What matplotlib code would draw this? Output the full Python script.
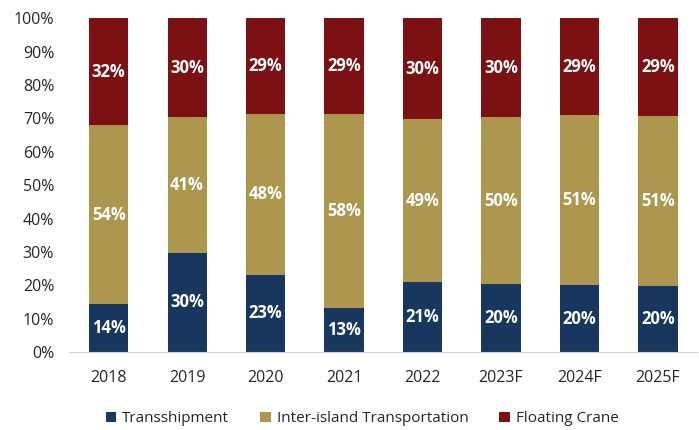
import matplotlib.pyplot as plt
import numpy as np

plt.rcParams["font.family"] = ["Open Sans", "DejaVu Sans"]

years = ["2018", "2019", "2020", "2021", "2022", "2023F", "2024F", "2025F"]
transshipment = [14.3, 29.7, 23.1, 13.1, 20.9, 20.3, 20.0, 19.9]
inter_island = [53.8, 40.6, 48.3, 58.3, 49.0, 50.1, 51.1, 50.9]
floating_crane = [31.9, 29.7, 28.6, 28.6, 30.1, 29.6, 28.9, 29.2]

colors = ["#17375E", "#AD974F", "#7B1113"]
names = ["Transshipment", "Inter-island Transportation", "Floating Crane"]

fig = plt.figure(figsize=(6.99, 4.30), dpi=100)
ax = fig.add_axes([0.0993, 0.1814, 0.8983, 0.776])

x = np.arange(len(years))
bottom = np.zeros(len(years))
for vals, col, name in zip([transshipment, inter_island, floating_crane], colors, names):
    vals = np.array(vals)
    ax.bar(x, vals, 0.5, bottom=bottom, color=col, label=name, linewidth=0)
    for xi, b, v in zip(x, bottom, vals):
        ax.text(xi, b + v / 2, f"{v:.0f}%", ha="center", va="center",
                color="white", fontsize=12, fontweight="bold")
    bottom += vals

ax.set_xlim(-0.5, len(years) - 0.5)
ax.set_ylim(0, 100)
ax.set_yticks(np.arange(0, 101, 10))
ax.set_yticklabels([f"{t}%" for t in range(0, 101, 10)])
ax.set_xticks(x)
ax.set_xticklabels(years)
ax.tick_params(length=0, labelsize=11.5, labelcolor="#262626")
ax.tick_params(axis="x", pad=13)
ax.tick_params(axis="y", pad=11)
for s in ["top", "right", "left"]:
    ax.spines[s].set_visible(False)
ax.spines["bottom"].set_color("#D0D0D0")
ax.spines["bottom"].set_linewidth(0.8)

fig.legend(loc="center", bbox_to_anchor=(0.518, 0.026), ncol=3, frameon=False,
           fontsize=11, handlelength=0.7, handleheight=0.7, handletextpad=0.4,
           columnspacing=2.0, labelcolor="#262626")

fig.savefig("out.png", dpi=100)
